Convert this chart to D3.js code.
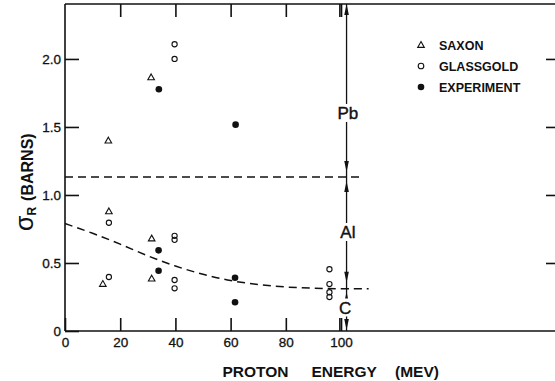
<!DOCTYPE html>
<html>
<head>
<meta charset="utf-8">
<script src="https://cdn.jsdelivr.net/npm/d3@7"></script>
<style>
  html, body { margin: 0; padding: 0; background: #fff; }
  svg { display: block; }
  text { font-family: "Liberation Sans", Arial, sans-serif; fill: #111; }
</style>
</head>
<body>
<svg id="chart" width="555" height="381"></svg>
<script>
// ---- data ----
const saxonEnergy = [15.7, 31.2, 15.9, 13.7, 31.4, 31.4];
const saxonSigma  = [1.40, 1.865, 0.88, 0.346, 0.68, 0.385];

const glassgoldEnergy = [39.7, 39.7, 15.9, 15.9, 39.7, 39.7, 39.7, 39.7, 95.8, 95.8, 95.8, 95.8];
const glassgoldSigma  = [2.108, 2.0, 0.796, 0.397, 0.70, 0.67, 0.375, 0.314, 0.454, 0.345, 0.285, 0.25];

const experimentEnergy = [34.0, 33.9, 33.9, 61.8, 61.6, 61.6];
const experimentSigma  = [1.777, 0.593, 0.443, 1.517, 0.392, 0.211];

// dashed curve (Al / C boundary) read point by point
const curveEnergy = [0, 10, 20, 30, 40, 50, 60, 70, 80, 90, 100, 110];
const curveSigma  = [0.79, 0.72, 0.64, 0.55, 0.475, 0.415, 0.368, 0.34, 0.322, 0.314, 0.31, 0.31];

// dashed horizontal line (Pb / Al boundary)
const pbLineEnergy = [0, 107.5];
const pbLineSigma  = [1.132, 1.132];

// vertical bracket and region labels
const bracketEnergy = 102;
const regionLabels = ["Pb", "Al", "C"];
const regionLabelSigma = [1.603, 0.728, 0.173];
const regionLabelEnergy = [102.5, 102.5, 101.5];

const legendLabels = ["SAXON", "GLASSGOLD", "EXPERIMENT"];

const xTickValues = [0, 20, 40, 60, 80, 100];
const xTickLabels = ["0", "20", "40", "60", "80", "100"];
const xExtraTicks = [99.4];
const yTickValues = [0, 0.5, 1.0, 1.5, 2.0];
const yTickLabels = ["0", "0.5", "1.0", "1.5", "2.0"];

// ---- layout ----
const svg = d3.select("#chart");
const ink = "#111";
const L = 65, R = 558, T = 4, B = 331;

const x = d3.scaleLinear().domain([0, 178.6]).range([L, R]);
const y = d3.scaleLinear().domain([0, 2.404]).range([B, T]);

// frame
const frame = svg.append("g").attr("stroke", ink).attr("stroke-width", 1.6).attr("fill", "none");
frame.append("line").attr("x1", L).attr("x2", L).attr("y1", T).attr("y2", B);
frame.append("line").attr("x1", L).attr("x2", R).attr("y1", T).attr("y2", T);
frame.append("line").attr("x1", L).attr("x2", R).attr("y1", B).attr("y2", B);
frame.append("line").attr("x1", R).attr("x2", R).attr("y1", T).attr("y2", B);

function styleAxis(g) {
  g.select(".domain").remove();
  g.selectAll(".tick line").attr("stroke", ink).attr("stroke-width", 1.6);
  g.selectAll(".tick text").attr("fill", ink).attr("font-size", 13.5)
    .attr("font-family", "Liberation Sans, Arial, sans-serif")
    .attr("stroke", ink).attr("stroke-width", 0.3);
}

// bottom axis
svg.append("g").attr("transform", `translate(0,${B})`)
  .call(d3.axisBottom(x).tickValues(xTickValues.concat(xExtraTicks)).tickSize(-13).tickPadding(6)
    .tickFormat(d => { const i = xTickValues.indexOf(d); return i >= 0 ? xTickLabels[i] : ""; }))
  .call(styleAxis);

// top axis (ticks only)
svg.append("g").attr("transform", `translate(0,${T})`)
  .call(d3.axisTop(x).tickValues(xTickValues.slice(1).concat(xExtraTicks)).tickSize(-13).tickFormat(""))
  .call(styleAxis);

// left axis
svg.append("g").attr("transform", `translate(${L},0)`)
  .call(d3.axisLeft(y).tickValues(yTickValues).tickSize(-14).tickPadding(4)
    .tickFormat(d => yTickLabels[yTickValues.indexOf(d)]))
  .call(styleAxis);

// right axis (ticks only)
svg.append("g").attr("transform", `translate(${R},0)`)
  .call(d3.axisRight(y).tickValues(yTickValues.slice(1)).tickSize(-12).tickFormat(""))
  .call(styleAxis);

// dashed lines
const dash = "8,5";
const lineGen = d3.line().x(d => x(d[0])).y(d => y(d[1]));
svg.append("path")
  .datum(pbLineEnergy.map((e, i) => [e, pbLineSigma[i]]))
  .attr("d", lineGen).attr("fill", "none").attr("stroke", ink)
  .attr("stroke-width", 1.5).attr("stroke-dasharray", dash);
svg.append("path")
  .datum(curveEnergy.map((e, i) => [e, curveSigma[i]]))
  .attr("d", lineGen.curve(d3.curveBasis)).attr("fill", "none").attr("stroke", ink)
  .attr("stroke-width", 1.5).attr("stroke-dasharray", dash);

// vertical bracket line
const bx = x(bracketEnergy);
svg.append("line").attr("x1", bx).attr("x2", bx).attr("y1", T).attr("y2", B)
  .attr("stroke", ink).attr("stroke-width", 1.3);

// arrowheads: [tip sigma, direction, gap px]
const topSigma = y.domain()[1];
const arrowTips = [
  [topSigma, -1, 0],
  [pbLineSigma[0], 1, 5],
  [pbLineSigma[0], -1, 4],
  [0.31, 1, 6],
  [0.31, -1, 3],
  [0, 1, 1]
];
svg.append("g").selectAll("path").data(arrowTips).join("path")
  .attr("d", d => {
    const ty = y(d[0]) - d[1] * d[2];
    const by = ty - d[1] * 11;
    return `M${bx},${ty} L${bx - 2.3},${by} L${bx + 2.3},${by} Z`;
  })
  .attr("fill", ink);

// region labels with white background
const lab = svg.append("g");
regionLabels.forEach((t, i) => {
  const cx = x(regionLabelEnergy[i]), cy = y(regionLabelSigma[i]);
  const w = t.length * 11 + 2;
  lab.append("rect").attr("x", cx - w / 2).attr("y", cy - 9).attr("width", w).attr("height", 18).attr("fill", "#fff");
  lab.append("text").attr("x", cx).attr("y", cy).attr("dy", "0.36em")
    .attr("text-anchor", "middle").attr("font-size", 17).attr("font-weight", "normal")
    .attr("stroke", ink).attr("stroke-width", 0.4)
    .text(t);
});

// markers
const triPath = (cx, cy) => `M${cx},${cy - 3.4} L${cx + 3.3},${cy + 2.4} L${cx - 3.3},${cy + 2.4} Z`;
svg.append("g").selectAll("path").data(saxonEnergy.map((e, i) => [e, saxonSigma[i]])).join("path")
  .attr("d", d => triPath(x(d[0]), y(d[1])))
  .attr("fill", "#fff").attr("stroke", ink).attr("stroke-width", 1.1);

svg.append("g").selectAll("circle").data(glassgoldEnergy.map((e, i) => [e, glassgoldSigma[i]])).join("circle")
  .attr("cx", d => x(d[0])).attr("cy", d => y(d[1])).attr("r", 2.6)
  .attr("fill", "none").attr("stroke", ink).attr("stroke-width", 1.1);

svg.append("g").selectAll("circle").data(experimentEnergy.map((e, i) => [e, experimentSigma[i]])).join("circle")
  .attr("cx", d => x(d[0])).attr("cy", d => y(d[1])).attr("r", 3.3)
  .attr("fill", ink);

// legend
const lg = svg.append("g");
const legY = [45, 66, 87];
const legX = 421;
lg.append("path").attr("d", triPath(legX, legY[0])).attr("fill", "#fff").attr("stroke", ink).attr("stroke-width", 1.1);
lg.append("circle").attr("cx", legX).attr("cy", legY[1]).attr("r", 2.8).attr("fill", "none").attr("stroke", ink).attr("stroke-width", 1.1);
lg.append("circle").attr("cx", legX).attr("cy", legY[2]).attr("r", 3.3).attr("fill", ink);
legendLabels.forEach((t, i) => {
  lg.append("text").attr("x", 439).attr("y", legY[i]).attr("dy", "0.36em")
    .attr("font-size", 12.5).attr("font-weight", "bold").text(t);
});

// x-axis title
const xTitleWords = ["PROTON", "ENERGY", "(MEV)"];
const xTitleStart = [222.5, 311.5, 395];
xTitleWords.forEach((w, i) => {
  svg.append("text").attr("x", xTitleStart[i]).attr("y", 377)
    .attr("font-size", 15.5).attr("font-weight", "bold").text(w);
});

// y-axis title (rotated): sigma_R (BARNS)
const yt = svg.append("text").attr("transform", "translate(33,231) rotate(-90)");
yt.append("tspan").attr("font-size", 25).text("σ");
yt.append("tspan").attr("font-size", 12).attr("font-weight", "bold").attr("dy", 3).text("R");
yt.append("tspan").attr("font-size", 16).attr("font-weight", "bold").attr("dy", -3).attr("dx", 6).text("(BARNS)");
</script>
</body>
</html>
